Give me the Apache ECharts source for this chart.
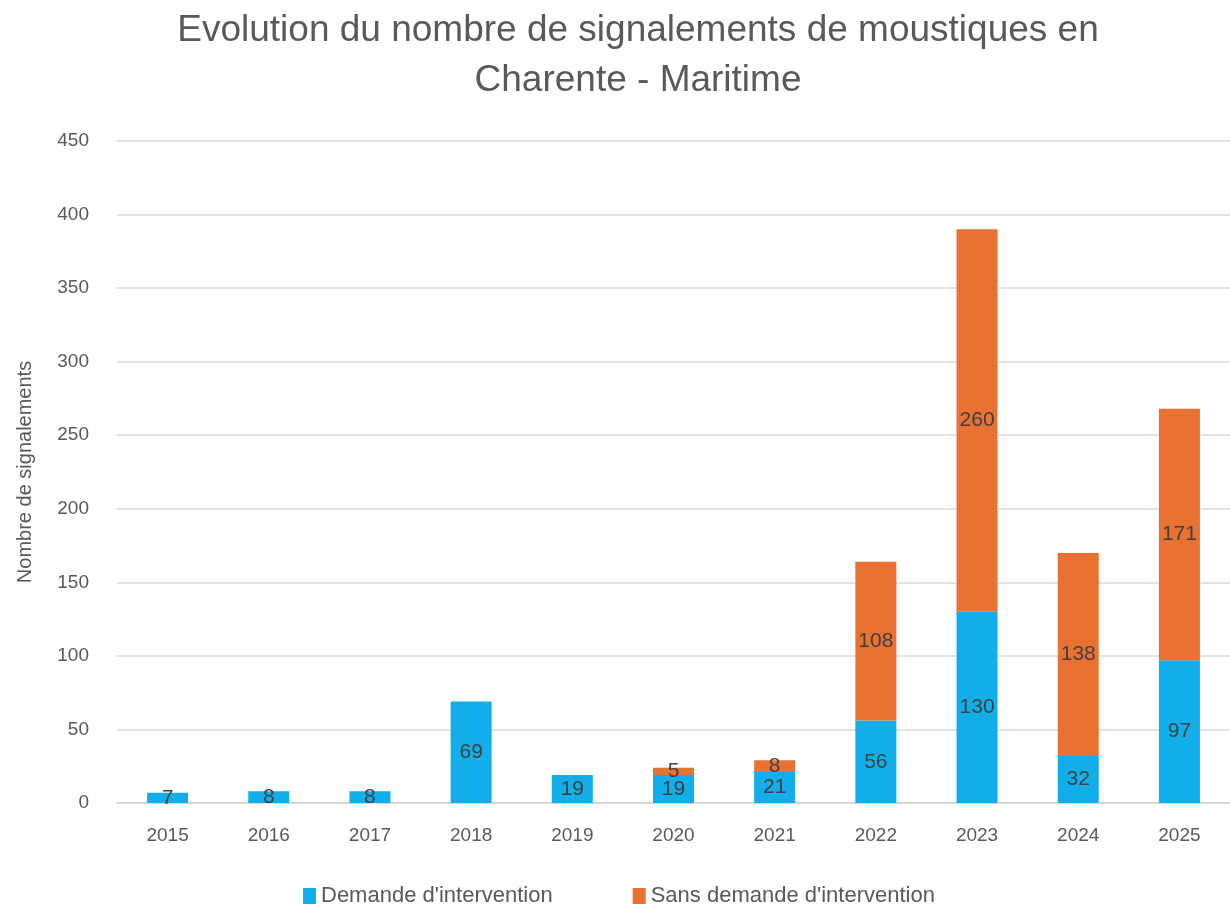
<!DOCTYPE html>
<html>
<head>
<meta charset="utf-8">
<script src="https://cdn.jsdelivr.net/npm/echarts@6/dist/echarts.min.js"></script>
<style>
  html, body { margin: 0; padding: 0; background: #fff; }
  #chart { width: 1230px; height: 906px; }
</style>
</head>
<body>
<div id="chart"></div>
<script>
// years on the x axis
const years = ["2015", "2016", "2017", "2018", "2019", "2020", "2021", "2022", "2023", "2024", "2025"];
// reports with an intervention request
const demande = [7, 8, 8, 69, 19, 19, 21, 56, 130, 32, 97];
// reports without one
const sansDemande = [0, 0, 0, 0, 0, 5, 8, 108, 260, 138, 171];

const FONT = "'Liberation Sans', sans-serif";
const GREY = "#595959";

const chart = echarts.init(document.getElementById("chart"));

const labelOpt = {
  show: true,
  position: "inside",
  color: "#404040",
  fontSize: 21,
  fontFamily: FONT,
  formatter: (p) => (p.value ? p.value : ""),
};

chart.setOption({
  backgroundColor: "#fff",
  animation: false,
  title: {
    text: "Evolution du nombre de signalements de moustiques en\nCharente - Maritime",
    left: 633,
    textAlign: "center",
    top: 1,
    textStyle: {
      color: GREY,
      fontSize: 37,
      fontWeight: "normal",
      fontFamily: FONT,
      lineHeight: 50,
    },
  },
  legend: {
    top: 880,
    left: 298,
    itemWidth: 13,
    itemHeight: 16,
    itemGap: 80,
    icon: "rect",
    textStyle: { color: GREY, fontSize: 22, fontFamily: FONT },
    data: ["Demande d'intervention", "Sans demande d'intervention"],
  },
  grid: {
    left: 117,
    right: -19,
    top: 141,
    bottom: 103,
    containLabel: false,
  },
  xAxis: {
    type: "category",
    data: years,
    axisTick: { show: false },
    axisLine: { lineStyle: { color: "#d9d9d9", width: 2 } },
    axisLabel: { color: GREY, fontSize: 19, fontFamily: FONT, margin: 23 },
  },
  yAxis: {
    type: "value",
    min: 0,
    max: 450,
    interval: 50,
    name: "Nombre de signalements",
    nameLocation: "middle",
    nameGap: 82,
    nameTextStyle: { color: GREY, fontSize: 20, fontFamily: FONT },
    axisLine: { show: false },
    axisTick: { show: false },
    axisLabel: { color: GREY, fontSize: 19, fontFamily: FONT, margin: 28 },
    splitLine: { lineStyle: { color: "#e3e3e3", width: 2 } },
  },
  series: [
    {
      name: "Demande d'intervention",
      type: "bar",
      stack: "total",
      barWidth: 41,
      itemStyle: { color: "#12AEEA" },
      label: labelOpt,
      data: demande,
    },
    {
      name: "Sans demande d'intervention",
      type: "bar",
      stack: "total",
      barWidth: 41,
      itemStyle: { color: "#E97132" },
      label: labelOpt,
      data: sansDemande,
    },
  ],
});
</script>
</body>
</html>
